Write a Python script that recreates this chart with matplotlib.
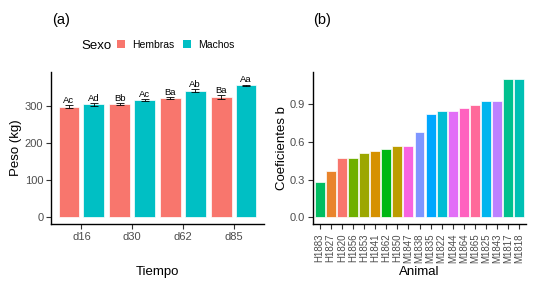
import numpy as np
import matplotlib
matplotlib.use("Agg")
import matplotlib.pyplot as plt
from matplotlib.patches import Patch

plt.rcParams['font.family'] = ['Liberation Sans', 'DejaVu Sans']

# ---------------- data ----------------
tiempo = ["d16", "d30", "d62", "d85"]
sexos = ["Hembras", "Machos"]
peso_hembras = [297, 304, 320, 323]
peso_machos = [303, 315, 340, 354]
se_hembras = [4, 3, 3, 5]
se_machos = [3, 3, 3.5, 2]
letras_hembras = ["Ac", "Bb", "Ba", "Ba"]
letras_machos = ["Ad", "Ac", "Ab", "Aa"]

animales = ["H1883", "H1827", "H1820", "H1856", "H1853", "H1841", "H1862", "H1850",
            "M1847", "M1838", "M1835", "M1822", "M1844", "M1864", "M1865", "M1825",
            "M1843", "M1817", "M1818"]
coef_b = [0.28, 0.37, 0.47, 0.47, 0.51, 0.53, 0.543, 0.57,
          0.57, 0.68, 0.822, 0.85, 0.85, 0.87, 0.893, 0.924,
          0.924, 1.103, 1.103]


# ggplot2-like hue palette (HCL -> sRGB)
def hcl_to_hex(h, c=100.0, l=65.0):
    hr = np.deg2rad(h)
    u = c * np.cos(hr)
    v = c * np.sin(hr)
    Y = ((l + 16) / 116) ** 3 if l > 8 else l / 903.3
    un, vn = 0.1978398, 0.4683363
    up = u / (13 * l) + un
    vp = v / (13 * l) + vn
    X = 9.0 * Y * up / (4 * vp)
    Z = -X / 3 - 5 * Y + 3 * Y / vp
    M = np.array([[3.240479, -1.537150, -0.498535],
                  [-0.969256, 1.875992, 0.041556],
                  [0.055648, -0.204043, 1.057311]])
    rgb = M @ np.array([X, Y, Z])
    out = []
    for t in rgb:
        t = 12.92 * t if t <= 0.0031308 else 1.055 * t ** (1 / 2.4) - 0.055
        out.append(min(max(t, 0), 1))
    return tuple(out)


def hue_pal(n):
    hs = np.linspace(15, 375 - 360 / n, n)
    return [hcl_to_hex(h) for h in hs]


sex_cols = hue_pal(2)
levels = sorted(animales)
pal = hue_pal(len(levels))
anim_cols = [pal[levels.index(a)] for a in animales]

# ---------------- figure ----------------
W, H = 537, 286
fig = plt.figure(figsize=(W / 100, H / 100), dpi=100)

def fx(px):
    return px / W

def fy(py):
    return 1 - py / H

axA = fig.add_axes([fx(51), fy(224), fx(264) - fx(51), fy(72) - fy(224)])
axB = fig.add_axes([fx(313), fy(224), fx(526) - fx(313), fy(72) - fy(224)])

tick_col = "#4D4D4D"
for ax in (axA, axB):
    for s in ("top", "right"):
        ax.spines[s].set_visible(False)
    for s in ("left", "bottom"):
        ax.spines[s].set_linewidth(1.0)
        ax.spines[s].set_color("black")
    ax.tick_params(axis="both", length=3.5, width=0.8, color="#333333",
                   labelcolor=tick_col, labelsize=8, pad=2)

# ---- panel (a)
x = np.arange(len(tiempo)) + 1
off = 0.245
bw = 0.41
axA.bar(x - off, peso_hembras, width=bw, color=sex_cols[0], edgecolor="white",
        linewidth=0.5, zorder=2)
axA.bar(x + off, peso_machos, width=bw, color=sex_cols[1], edgecolor="white",
        linewidth=0.5, zorder=2)
axA.errorbar(x - off, peso_hembras, yerr=se_hembras, fmt="none", ecolor="black",
             elinewidth=0.6, capsize=2.8, capthick=0.6, zorder=3)
axA.errorbar(x + off, peso_machos, yerr=se_machos, fmt="none", ecolor="black",
             elinewidth=0.6, capsize=2.8, capthick=0.6, zorder=3)
for xi, v, s, t in zip(x - off, peso_hembras, se_hembras, letras_hembras):
    axA.text(xi, v + s + 6, t, ha="center", va="baseline", fontsize=6.8, color="black")
for xi, v, s, t in zip(x + off, peso_machos, se_machos, letras_machos):
    axA.text(xi, v + s + 6, t, ha="center", va="baseline", fontsize=6.8, color="black")
axA.set_xlim(0.4, 4.6)
axA.set_ylim(-18, 390)
axA.set_xticks(x)
axA.set_xticklabels(tiempo)
axA.set_yticks([0, 100, 200, 300])
axA.set_ylabel("Peso (kg)", fontsize=9.5, color="black")
axA.set_xlabel("Tiempo", fontsize=9.5, color="black")
axA.yaxis.set_label_coords((16 - 51) / 213, 0.5)
axA.xaxis.set_label_coords(0.5, (224 - 272) / 152)

# ---- panel (b)
xb = np.arange(len(animales)) + 1
axB.bar(xb, coef_b, width=0.9, color=anim_cols, edgecolor="white", linewidth=0.5, zorder=2)
axB.set_xlim(0.4, len(animales) + 0.6)
axB.set_ylim(-0.055, 1.158)
axB.set_xticks(xb)
axB.set_xticklabels(animales, rotation=90, fontsize=7)
axB.tick_params(axis="x", pad=3)
axB.set_yticks([0.0, 0.3, 0.6, 0.9])
axB.set_yticklabels(["0.0", "0.3", "0.6", "0.9"])
axB.set_ylabel("Coeficientes b", fontsize=9.5, color="black")
axB.set_xlabel("Animal", fontsize=9.5, color="black")
axB.yaxis.set_label_coords((282 - 313) / 213, 0.5)
axB.xaxis.set_label_coords(0.5, (224 - 272) / 152)
for ax in (axA, axB):
    ax.xaxis.label.set_verticalalignment("center")
    ax.yaxis.label.set_verticalalignment("center")

# panel tags
fig.text(fx(52), fy(20), "(a)", fontsize=10.5, ha="left", va="center")
fig.text(fx(313), fy(20), "(b)", fontsize=10.5, ha="left", va="center")

# legend
fig.text(fx(81), fy(46), "Sexo", fontsize=9.5, ha="left", va="center")
handles = [Patch(facecolor=sex_cols[0], edgecolor="none"),
           Patch(facecolor=sex_cols[1], edgecolor="none")]
fig.legend(handles, sexos, loc="center left", bbox_to_anchor=(fx(117), fy(45)),
           ncol=2, frameon=False, fontsize=7.5, handlelength=0.8, handleheight=0.8,
           handletextpad=0.65, columnspacing=0.8, borderpad=0, borderaxespad=0)

fig.savefig("out.png", dpi=100)
